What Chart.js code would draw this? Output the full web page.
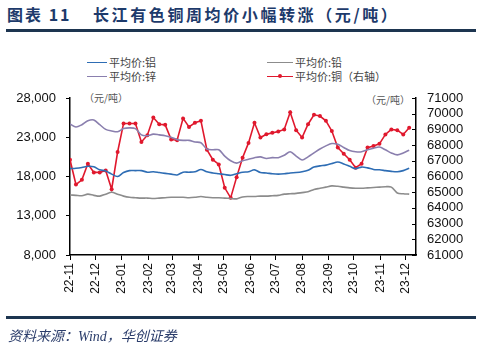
<!DOCTYPE html>
<html>
<head>
<meta charset="utf-8">
<script src="https://cdn.jsdelivr.net/npm/chart.js@4.4.1/dist/chart.umd.min.js"></script>
<style>
    body { margin: 0; background: #fff; }
    #page { position: relative; width: 482px; height: 351px; overflow: hidden; font-family: "Noto Sans CJK SC", sans-serif; }
    #titulo { position: absolute; left: 7px; top: 2px; font-size: 16px; font-weight: bold; color: #1d3a6b; letter-spacing: 2.6px; white-space: nowrap; }
    #titulo .num { position: absolute; left: 0; top: 0; letter-spacing: 2px; }
    #titulo .txt { position: absolute; left: 86px; top: 0; }
    .regua { position: absolute; left: 6px; width: 470px; background: #1d3550; }
    #legenda div { position: absolute; font-size: 11px; color: #444; white-space: nowrap; }
    .amostra { position: absolute; height: 0; border-top: 1.5px solid; }
    .unidade { position: absolute; font-size: 10px; color: #555; }
    #fonte { position: absolute; left: 8px; top: 325px; font-size: 14px; font-style: italic; color: #2b3d6b; font-family: "Liberation Serif", "Noto Sans CJK SC", serif; }
    #box { position: absolute; left: 0; top: 0; width: 482px; height: 351px; }
</style>
</head>
<body>
<div id="page">
    <div id="titulo"><span class="num">图表 11</span><span class="txt">长江有色铜周均价小幅转涨（元/吨）</span></div>
    <div class="regua" style="top:29px;height:2.5px"></div>

    <div id="legenda">
        <span class="amostra" style="left:87px;top:62px;width:20px;border-color:#2e6db4"></span>
        <div style="left:109px;top:54px">平均价:铝</div>
        <span class="amostra" style="left:87px;top:76px;width:20px;border-color:#8a7fae"></span>
        <div style="left:109px;top:68px">平均价:锌</div>
        <span class="amostra" style="left:267px;top:62px;width:26px;border-color:#8c8c8c"></span>
        <div style="left:295px;top:54px">平均价:铅</div>
        <span class="amostra" style="left:267px;top:76px;width:26px;border-color:#e0182d"></span>
        <span style="position:absolute;left:278px;top:74px;width:4px;height:4px;border-radius:2px;background:#e0182d"></span>
        <div style="left:295px;top:68px">平均价:铜（右轴）</div>
    </div>

    <div class="unidade" style="left:84px;top:90px">（元/吨）</div>
    <div class="unidade" style="left:366px;top:92px">（元/吨）</div>

    <div id="box"><canvas id="grafico"></canvas></div>

    <div class="regua" style="top:316px;height:2.5px"></div>
    <div id="fonte">资料来源：Wind，华创证券</div>
</div>

<script>
// semanas (datas das médias semanais)
const semanas = [
    '2022-11-01', '2022-11-08', '2022-11-15', '2022-11-22', '2022-11-29', '2022-12-06', '2022-12-13', '2022-12-20', '2022-12-27',
    '2023-01-03', '2023-01-10', '2023-01-17', '2023-01-24', '2023-01-31', '2023-02-07', '2023-02-14', '2023-02-21', '2023-02-28',
    '2023-03-07', '2023-03-14', '2023-03-21', '2023-03-28', '2023-04-04', '2023-04-11', '2023-04-18', '2023-04-25', '2023-05-02',
    '2023-05-09', '2023-05-16', '2023-05-23', '2023-05-30', '2023-06-06', '2023-06-13', '2023-06-20', '2023-06-27', '2023-07-04',
    '2023-07-11', '2023-07-18', '2023-07-25', '2023-08-01', '2023-08-08', '2023-08-15', '2023-08-22', '2023-08-29', '2023-09-05',
    '2023-09-12', '2023-09-19', '2023-09-26', '2023-10-03', '2023-10-10', '2023-10-17', '2023-10-24', '2023-10-31', '2023-11-07',
    '2023-11-14', '2023-11-21', '2023-11-28', '2023-12-05'
];

const aluminio = [
    19000, 19050, 19150, 19300, 19250, 18850, 18700, 18300, 18000, 18500,
    18750, 18750, 18750, 18550, 18600, 18500, 18400, 18300, 18200, 18550,
    18550, 18600, 18900, 18600, 18450, 18350, 18250, 18150, 18350, 18550,
    18600, 18850, 18500, 18450, 18350, 18300, 18350, 18450, 18500, 18600,
    18800, 19200, 19350, 19450, 19650, 19850, 19600, 19300, 19000, 19200,
    19100, 18900, 18850, 18750, 18650, 18600, 18750, 19050
];

const chumbo = [
    15650, 15600, 15550, 15750, 15600, 15500, 15750, 16000, 15750, 15500,
    15350, 15300, 15250, 15250, 15200, 15250, 15300, 15350, 15350, 15350,
    15300, 15350, 15450, 15350, 15300, 15300, 15250, 15200, 15150, 15400,
    15450, 15450, 15500, 15500, 15550, 15600, 15750, 15800, 15850, 15950,
    16050, 16350, 16500, 16650, 16800, 16750, 16650, 16550, 16500, 16500,
    16550, 16600, 16650, 16700, 16650, 15900, 15800, 15750
];

const zinco = [
    24700, 24300, 24600, 25100, 25200, 24600, 24000, 23800, 23700, 24100,
    24200, 24100, 23300, 23200, 23400, 23300, 23200, 23000, 22700, 22600,
    22600, 22400, 22300, 21500, 21400, 21400, 20600, 20000, 19700, 20000,
    20200, 20400, 20500, 20300, 20400, 20400, 20700, 21150, 20600, 20100,
    20500, 21000, 21500, 21900, 22200, 22100, 21700, 21300, 21150, 21150,
    21400, 21600, 21750, 21400, 21000, 20750, 21000, 21350
];

// cobre, eixo da direita
const cobre = [
    67070, 65490, 65790, 66810, 66260, 66260, 66380, 65190, 67560, 69380,
    69380, 69380, 68200, 68630, 69760, 69330, 69290, 68350, 68310, 69700,
    69160, 69420, 69550, 67710, 67070, 66770, 65280, 64640, 65960, 67200,
    68140, 69420, 68480, 68690, 68780, 68870, 69000, 70100, 68950, 68480,
    69330, 69930, 69850, 69550, 68900, 67840, 67450, 67070, 66560, 66810,
    67840, 67940, 68080, 68680, 69000, 68950, 68680, 69100
];

const mesesEixo = ['22-11', '22-12', '23-01', '23-02', '23-03', '23-04', '23-05', '23-06', '23-07', '23-08', '23-09', '23-10', '23-11', '23-12'];

const inicio = Date.UTC(2022, 10, 1);
function dias(ms) { return Math.round((ms - inicio) / 86400000); }
function diaDaSemana(s) {
    const p = s.split('-');
    return dias(Date.UTC(+p[0], +p[1] - 1, +p[2]));
}
function diaDoMes(lbl) {
    const p = lbl.split('-');
    return dias(Date.UTC(2000 + +p[0], +p[1] - 1, 1));
}

const xs = semanas.map(diaDaSemana);
const ticksMes = mesesEixo.map(diaDoMes);

function serie(valores) {
    return valores.map((v, i) => ({ x: xs[i], y: v }));
}

const fonteEixo = { family: "'Liberation Sans', Arial, sans-serif", size: 13 };

const ticksDireita = {
    id: 'ticksDireita',
    afterDraw(chart) {
        const s = chart.scales.y2;
        const ctx = chart.ctx;
        ctx.save();
        ctx.strokeStyle = '#000';
        ctx.lineWidth = 1;
        s.ticks.forEach((t, i) => {
            const y = Math.round(s.getPixelForTick(i)) + 0.5;
            ctx.beginPath();
            ctx.moveTo(s.left - 4, y);
            ctx.lineTo(s.left, y);
            ctx.stroke();
        });
        ctx.restore();
    }
};

new Chart(document.getElementById('grafico'), {
    type: 'line',
    data: {
        datasets: [
            { label: '平均价:铝', data: serie(aluminio), borderColor: '#2e6db4', borderWidth: 1.6, pointRadius: 0, tension: 0.3, yAxisID: 'y' },
            { label: '平均价:铅', data: serie(chumbo), borderColor: '#8c8c8c', borderWidth: 1.6, pointRadius: 0, tension: 0.3, yAxisID: 'y' },
            { label: '平均价:锌', data: serie(zinco), borderColor: '#8a7fae', borderWidth: 1.6, pointRadius: 0, tension: 0.3, yAxisID: 'y' },
            { label: '平均价:铜（右轴）', data: serie(cobre), borderColor: '#e0182d', backgroundColor: '#e0182d', borderWidth: 1.6, pointRadius: 2, pointBorderWidth: 0, tension: 0, yAxisID: 'y2' }
        ]
    },
    options: {
        responsive: true,
        maintainAspectRatio: false,
        animation: false,
        layout: { padding: { top: 98, left: 0, right: 0, bottom: 0 } },
        plugins: {
            legend: { display: false },
            tooltip: { enabled: false }
        },
        scales: {
            x: {
                type: 'linear',
                min: 0,
                max: 407,
                afterBuildTicks: (s) => { s.ticks = ticksMes.map(v => ({ value: v })); },
                afterFit: (s) => { s.height = 96; },
                grid: { drawOnChartArea: false, tickLength: 5, color: '#000' },
                border: { color: '#000', width: 1.5 },
                ticks: {
                    autoSkip: false,
                    maxRotation: 90,
                    minRotation: 90,
                    padding: 3,
                    color: '#111',
                    font: { family: "'Liberation Sans', Arial, sans-serif", size: 12 },
                    callback: (v, i) => mesesEixo[i]
                }
            },
            y: {
                position: 'left',
                min: 8000,
                max: 28000,
                afterFit: (s) => { s.width = 70; },
                grid: { drawOnChartArea: false, tickLength: 4, color: '#000' },
                border: { color: '#000', width: 1.5 },
                ticks: {
                    stepSize: 5000,
                    autoSkip: false,
                    padding: 10,
                    color: '#111',
                    font: fonteEixo,
                    callback: (v) => v.toLocaleString('en-US')
                }
            },
            y2: {
                position: 'right',
                min: 61000,
                max: 71000,
                afterFit: (s) => { s.width = 66; },
                grid: { drawOnChartArea: false, drawTicks: false },
                border: { color: '#000', width: 1.5 },
                ticks: {
                    stepSize: 1000,
                    autoSkip: false,
                    padding: 11,
                    color: '#111',
                    font: fonteEixo,
                    callback: (v) => String(v)
                }
            }
        }
    },
    plugins: [ticksDireita]
});
</script>
</body>
</html>
